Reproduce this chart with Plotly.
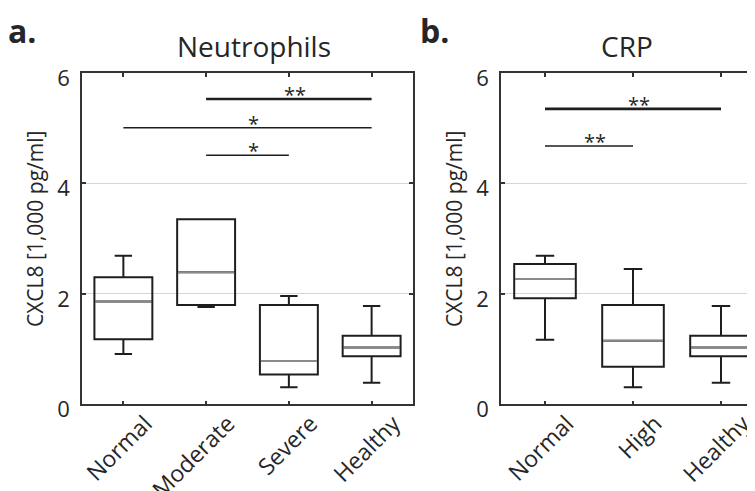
import plotly.graph_objects as go

# ---------------- data ----------------
cats_a = ["Normal", "Moderate", "Severe", "Healthy"]
lower_a = [0.91, 1.76, 0.31, 0.39]
q1_a = [1.18, 1.80, 0.54, 0.87]
med_a = [1.86, 2.39, 0.785, 1.03]
q3_a = [2.30, 3.35, 1.80, 1.24]
upper_a = [2.69, 3.35, 1.96, 1.78]

cats_b = ["Normal", "High", "Healthy"]
lower_b = [1.17, 0.31, 0.39]
q1_b = [1.92, 0.68, 0.87]
med_b = [2.27, 1.15, 1.03]
q3_b = [2.54, 1.80, 1.24]
upper_b = [2.69, 2.45, 1.78]

sig_a_from = ["Moderate", "Normal", "Moderate"]
sig_a_to = ["Healthy", "Healthy", "Severe"]
sig_a_y = [5.53, 5.01, 4.51]
sig_a_lab = ["**", "*", "*"]

sig_b_from = ["Normal", "Normal"]
sig_b_to = ["Healthy", "High"]
sig_b_y = [5.35, 4.68]
sig_b_lab = ["**", "**"]

y_ticks = [0, 2, 4, 6]
titles = ["Neutrophils", "CRP"]
panel_labels = ["a.", "b."]
y_title = "CXCL8 [1,000 pg/ml]"

# ---------------- style ----------------
OFF = 8                      # default page margin of the html body
W, H = 755 - OFF, 491 - OFF
FONT = "Open Sans"
TXT = "#262626"
LINE = "#1e1e1e"
MED = "#8a8a8a"
BOXW = 0.7


def px(x):
    return (x - OFF) / W


def py(y):
    return 1 - (y - OFF) / H


fig = go.Figure()


def add_panel(cats, lo, q1, med, q3, up, xa, ya, sfrom, sto, sy, slab):
    pos = list(range(1, len(cats) + 1))
    fig.add_trace(go.Box(
        x=pos, q1=q1, median=med, q3=q3, lowerfence=lo, upperfence=up,
        width=BOXW, whiskerwidth=0.3, fillcolor="rgba(255,255,255,0)",
        line=dict(color=LINE, width=2), boxpoints=False, hoverinfo="skip",
        xaxis=xa, yaxis=ya, showlegend=False))
    for p, m in zip(pos, med):
        fig.add_trace(go.Scatter(
            x=[p - BOXW / 2 + 0.01, p + BOXW / 2 - 0.01], y=[m, m], mode="lines",
            line=dict(color=MED, width=2), xaxis=xa, yaxis=ya,
            showlegend=False, hoverinfo="skip"))
    for i, (a, b, yy, lab) in enumerate(zip(sfrom, sto, sy, slab)):
        xa_i = cats.index(a) + 1
        xb_i = cats.index(b) + 1
        fig.add_trace(go.Scatter(
            x=[xa_i, xb_i], y=[yy, yy], mode="lines",
            line=dict(color=LINE, width=2.6 if i == 0 else 1.5),
            xaxis=xa, yaxis=ya, showlegend=False, hoverinfo="skip"))
        fig.add_annotation(
            x=(xa_i + xb_i) / 2, y=yy, xref=xa, yref=ya, text=lab,
            showarrow=False, yanchor="bottom", xanchor="center",
            xshift=6, yshift=-11,
            font=dict(family=FONT, size=20, color=TXT))


add_panel(cats_a, lower_a, q1_a, med_a, q3_a, upper_a, "x", "y",
          sig_a_from, sig_a_to, sig_a_y, sig_a_lab)
add_panel(cats_b, lower_b, q1_b, med_b, q3_b, upper_b, "x2", "y2",
          sig_b_from, sig_b_to, sig_b_y, sig_b_lab)

ydom = [py(404.3), py(73)]
common_x = dict(showline=True, linecolor="#333", linewidth=1.6,
                ticks="inside", ticklen=4, tickcolor="#333", tickwidth=1.5,
                showgrid=False, zeroline=False, tickangle=-45,
                tickfont=dict(family=FONT, size=23, color=TXT),
                ticklabelshift=22, ticklabelstandoff=-5, automargin=False,
                ticklabeloverflow="allow")
common_y = dict(showline=True, linecolor="#333", linewidth=1.6,
                ticks="inside", ticklen=4, tickcolor="#333", tickwidth=1.5,
                showgrid=True, gridcolor="#d6d6d6", gridwidth=1.2,
                zeroline=False, range=[0, 6], tickvals=y_ticks,
                tickfont=dict(family=FONT, size=22, color=TXT),
                ticklabelshift=5, ticklabelstandoff=6, domain=ydom,
                automargin=False, ticklabeloverflow="allow")

fig.update_layout(
    width=W, height=H, margin=dict(l=0, r=0, t=0, b=0),
    paper_bgcolor="white", plot_bgcolor="white",
    xaxis=dict(common_x, domain=[px(82), px(413)], range=[0.5, 4.5],
               tickvals=list(range(1, 5)), ticktext=cats_a, mirror="ticks",
               anchor="y"),
    yaxis=dict(common_y, mirror="ticks", anchor="x"),
    xaxis2=dict(common_x, domain=[px(501), 1.0],
                range=[0.5, 0.5 + (755 - 501) / 88],
                tickvals=list(range(1, 4)), ticktext=cats_b, mirror="ticks",
                anchor="y2"),
    yaxis2=dict(common_y, mirror=False, anchor="x2"),
)

# titles, panel letters, y-axis titles
for t, cx in zip(titles, [254, 627]):
    fig.add_annotation(x=px(cx), y=py(46), xref="paper", yref="paper", text=t,
                       showarrow=False, xanchor="center", yanchor="middle",
                       font=dict(family=FONT, size=28, color=TXT))
for t, lx in zip(panel_labels, [6, 418]):
    fig.add_annotation(x=px(lx), y=py(30), xref="paper", yref="paper",
                       text="<b>" + t + "</b>", showarrow=False,
                       xanchor="left", yanchor="middle",
                       font=dict(family=FONT, size=32, color=TXT))
for cx in [35, 454]:
    fig.add_annotation(x=px(cx), y=py(229), xref="paper", yref="paper",
                       text=y_title, textangle=-90, showarrow=False,
                       xanchor="center", yanchor="middle",
                       font=dict(family=FONT, size=21, color=TXT))

fig.write_html("out.html")
